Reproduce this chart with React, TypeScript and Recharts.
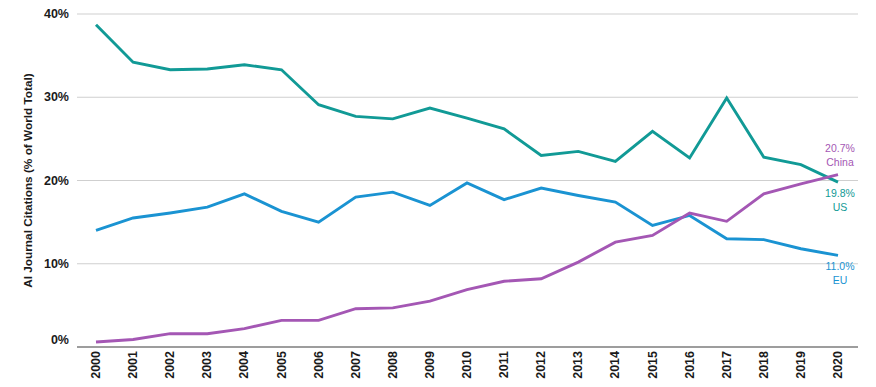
import React from "react";
import { LineChart, Line, XAxis, YAxis, CartesianGrid, LabelList } from "recharts";

const years = [2000, 2001, 2002, 2003, 2004, 2005, 2006, 2007, 2008, 2009, 2010, 2011, 2012, 2013, 2014, 2015, 2016, 2017, 2018, 2019, 2020];
const usValues = [38.7, 34.2, 33.3, 33.4, 33.9, 33.3, 29.1, 27.7, 27.4, 28.7, 27.5, 26.2, 23.0, 23.5, 22.3, 25.9, 22.7, 29.9, 22.8, 21.9, 19.8];
const euValues = [14.0, 15.5, 16.1, 16.8, 18.4, 16.3, 15.0, 18.0, 18.6, 17.0, 19.7, 17.7, 19.1, 18.2, 17.4, 14.6, 15.8, 13.0, 12.9, 11.8, 11.0];
const chinaValues = [0.6, 0.9, 1.6, 1.6, 2.2, 3.2, 3.2, 4.6, 4.7, 5.5, 6.9, 7.9, 8.2, 10.2, 12.6, 13.4, 16.1, 15.1, 18.4, 19.6, 20.7];
const yTicks = [0, 10, 20, 30, 40];

const data = years.map((y, i) => ({ year: y, us: usValues[i], eu: euValues[i], china: chinaValues[i] }));

const FONT = "'Liberation Sans', Arial, sans-serif";
const US_COLOR = "#119a96";
const EU_COLOR = "#1a93d2";
const CHINA_COLOR = "#a457b4";

const XTick = (props: any) => {
  const { x, y, payload } = props;
  const ty = y - 4;
  return (
    <text
      x={x}
      y={ty}
      transform={`rotate(-90, ${x}, ${ty})`}
      textAnchor="end"
      dominantBaseline="central"
      fontFamily={FONT}
      fontWeight="bold"
      fontSize={12.5}
      fill="#1a1a1a"
    >
      {payload.value}
    </text>
  );
};

const YTick = (props: any) => {
  const { x, y, payload } = props;
  const shift = payload.value === 0 ? -7 : 0;
  return (
    <text
      x={x}
      y={y + shift}
      textAnchor="end"
      dominantBaseline="central"
      fontFamily={FONT}
      fontWeight="bold"
      fontSize={12.5}
      fill="#1a1a1a"
    >
      {`${payload.value}%`}
    </text>
  );
};

const makeEndLabel = (name: string, color: string, above: boolean) => (props: any) => {
  const { x, y, index, value } = props;
  if (index !== years.length - 1) return null;
  const y1 = above ? y - 27 : y + 11;
  return (
    <g>
      <text x={x + 2} y={y1} textAnchor="middle" dominantBaseline="central" fontFamily={FONT} fontSize={10.5} fill={color}>
        {`${Number(value).toFixed(1)}%`}
      </text>
      <text x={x + 2} y={y1 + 14} textAnchor="middle" dominantBaseline="central" fontFamily={FONT} fontSize={10.5} fill={color}>
        {name}
      </text>
    </g>
  );
};

const YTitle = (props: any) => {
  const { viewBox } = props;
  const cx = viewBox.x + 28;
  const cy = viewBox.y + viewBox.height / 2;
  return (
    <text
      x={cx}
      y={cy}
      transform={`rotate(-90, ${cx}, ${cy})`}
      textAnchor="middle"
      dominantBaseline="central"
      fontFamily={FONT}
      fontWeight="bold"
      fontSize={11.8}
      fill="#1a1a1a"
    >
      AI Journal Citations (% of World Total)
    </text>
  );
};

export default function App() {
  return (
    <div style={{ position: "absolute", left: 0, top: 0, background: "#fff" }}>
      <LineChart width={876} height={387} data={data} margin={{ top: 14, right: 18, bottom: 0, left: 0 }}>
        <CartesianGrid vertical={false} stroke="#cfcfcf" strokeWidth={1.2} />
        <XAxis
          dataKey="year"
          interval={0}
          tickLine={false}
          axisLine={{ stroke: "#555", strokeWidth: 1.2 }}
          padding={{ left: 19, right: 20 }}
          height={40}
          tick={<XTick />}
        />
        <YAxis
          domain={[0, 40]}
          ticks={yTicks}
          width={77}
          tickLine={false}
          axisLine={false}
          tick={<YTick />}
          label={<YTitle />}
        />
        <Line type="linear" dataKey="us" stroke={US_COLOR} strokeWidth={2.9} dot={false} isAnimationActive={false}>
          <LabelList dataKey="us" content={makeEndLabel("US", US_COLOR, false)} />
        </Line>
        <Line type="linear" dataKey="eu" stroke={EU_COLOR} strokeWidth={2.9} dot={false} isAnimationActive={false}>
          <LabelList dataKey="eu" content={makeEndLabel("EU", EU_COLOR, false)} />
        </Line>
        <Line type="linear" dataKey="china" stroke={CHINA_COLOR} strokeWidth={2.9} dot={false} isAnimationActive={false}>
          <LabelList dataKey="china" content={makeEndLabel("China", CHINA_COLOR, true)} />
        </Line>
      </LineChart>
    </div>
  );
}
